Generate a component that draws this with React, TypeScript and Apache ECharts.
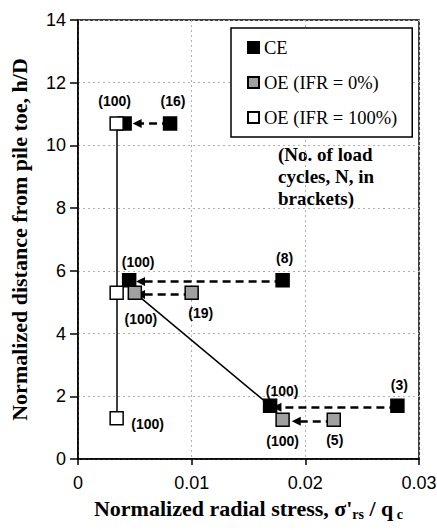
import React, { useEffect, useRef } from "react";
import * as echarts from "echarts";

// Radial stress profiles near the pile toe: closed-ended (CE) and open-ended (OE) piles
const ceX = [0.0081, 0.0041, 0.018, 0.0045, 0.0281, 0.0169];
const ceY = [10.7, 10.7, 5.7, 5.7, 1.7, 1.7];
const ceCycles: (number | null)[] = [16, null, 8, 100, 3, 100];

const oe0X = [0.01, 0.005, 0.0225, 0.018];
const oe0Y = [5.3, 5.3, 1.25, 1.25];
const oe0Cycles: (number | null)[] = [19, 100, 5, 100];

const oe100X = [0.0034, 0.0034, 0.0034];
const oe100Y = [10.7, 5.3, 1.3];
const oe100Cycles: (number | null)[] = [100, null, 100];

// Degradation of radial stress with cycling: [from, to] pairs
const arrowFrom = [
  [0.0081, 10.7],
  [0.018, 5.66],
  [0.01, 5.25],
  [0.0281, 1.65],
  [0.0225, 1.2],
];
const arrowTo = [
  [0.0052, 10.7],
  [0.0055, 5.66],
  [0.0055, 5.25],
  [0.0175, 1.65],
  [0.0192, 1.2],
];

// Profiles after 100 cycles
const profileFrom = [
  [0.0034, 10.7],
  [0.005, 5.3],
];
const profileTo = [
  [0.0034, 1.3],
  [0.0169, 1.7],
];

const xTicks = [0, 0.01, 0.02, 0.03];
const yMax = 14;

// label offsets (px) relative to each marker
const ceLabelOffset = [[3, -22], [0, 0], [2, -22], [9, -18], [2, -21], [12, -15]];
const oe0LabelOffset = [[9, 20], [6, 26], [1, 20], [0, 21]];
const oe100LabelOffset = [[-2, -22], [0, 0], [31, 6]];

const SANS = "'Liberation Sans', Arial, sans-serif";
const SERIF = "'Liberation Serif', 'Times New Roman', serif";

function points(xs: number[], ys: number[], cycles: (number | null)[], offsets: number[][]) {
  return xs.map((x, i) => ({
    value: [x, ys[i]],
    label: {
      show: cycles[i] !== null,
      formatter: cycles[i] !== null ? `(${cycles[i]})` : "",
      position: "inside",
      offset: offsets[i],
      color: "#000",
      textBorderWidth: 0,
      fontFamily: SANS,
      fontSize: 14,
      fontWeight: "bold",
    },
  }));
}

export default function App() {
  const ref = useRef<HTMLDivElement>(null);

  useEffect(() => {
    document.body.style.margin = "0";
    if (!ref.current) return;
    const chart = echarts.init(ref.current, null, { renderer: "svg" });

    const markerBorder = { borderColor: "#000", borderWidth: 1.5, opacity: 1 };

    chart.setOption({
      animation: false,
      backgroundColor: "#fff",
      grid: {
        left: 78,
        right: 18,
        top: 20,
        bottom: 71,
        outerBoundsMode: "none",
        containLabel: false,
        show: true,
        borderColor: "#000",
        borderWidth: 1.5,
      },
      legend: {
        data: ["CE", "OE (IFR = 0%)", "OE (IFR = 100%)"],
        orient: "vertical",
        left: 231,
        top: 28,
        padding: [10, 15, 10, 16],
        itemGap: 16,
        itemWidth: 11,
        itemHeight: 11,
        icon: "rect",
        borderColor: "#000",
        borderWidth: 1.5,
        backgroundColor: "#fff",
        textStyle: { fontFamily: SERIF, fontSize: 18.5, color: "#000" },
      },
      graphic: [
        {
          type: "text",
          left: 278,
          top: 143,
          style: {
            text: "(No. of load\ncycles, N, in\nbrackets)",
            fontFamily: SERIF,
            fontWeight: "bold",
            fontSize: 19,
            lineHeight: 22,
            fill: "#000",
          },
        },
      ],
      xAxis: {
        type: "value",
        min: xTicks[0],
        max: xTicks[xTicks.length - 1],
        interval: 0.01,
        name: "{t|Normalized radial stress, σ'}{s|rs}{t| / q}{s| c}",
        nameLocation: "middle",
        nameGap: 36,
        nameMoveOverlap: false,
        nameTextStyle: {
          rich: {
            t: { fontFamily: SERIF, fontWeight: "bold", fontSize: 22, color: "#000", lineHeight: 18, verticalAlign: "middle" },
            s: { fontFamily: SERIF, fontWeight: "bold", fontSize: 14, color: "#000", lineHeight: 26, verticalAlign: "bottom" },
          },
        },
        axisLine: { lineStyle: { color: "#000", width: 1.5 } },
        axisTick: { show: true, inside: false, length: 6, lineStyle: { color: "#000", width: 1.5 } },
        axisLabel: {
          margin: 15,
          color: "#000",
          fontFamily: SANS,
          fontSize: 18,
          formatter: (v: number) => (v === 0 ? "0" : String(+v.toFixed(2))),
        },
        splitLine: { show: true, lineStyle: { color: "#b0b0b0", type: [2, 3], width: 1 } },
      },
      yAxis: {
        type: "value",
        min: 0,
        max: yMax,
        interval: 2,
        name: "Normalized distance from pile toe, h/D",
        nameLocation: "middle",
        nameGap: 48,
        nameMoveOverlap: false,
        nameTextStyle: { fontFamily: SERIF, fontWeight: "bold", fontSize: 22, color: "#000" },
        axisLine: { lineStyle: { color: "#000", width: 1.5 } },
        axisTick: { show: true, inside: false, length: 8, lineStyle: { color: "#000", width: 1.5 } },
        axisLabel: { margin: 12, color: "#000", fontFamily: SANS, fontSize: 18 },
        splitLine: { show: true, lineStyle: { color: "#b0b0b0", type: [2, 3], width: 1 } },
      },
      series: [
        {
          type: "lines",
          coordinateSystem: "cartesian2d",
          silent: true,
          symbol: ["none", "none"],
          lineStyle: { color: "#000", width: 1.5, type: "solid", opacity: 1 },
          data: profileFrom.map((p, i) => ({ coords: [p, profileTo[i]] })),
          z: 1,
        },
        {
          type: "lines",
          coordinateSystem: "cartesian2d",
          silent: true,
          symbol: ["none", "triangle"],
          symbolSize: 9,
          lineStyle: { color: "#000", width: 2.5, type: [8, 5], opacity: 1 },
          data: arrowFrom.map((p, i) => ({ coords: [p, arrowTo[i]] })),
          z: 1,
        },
        {
          name: "CE",
          type: "scatter",
          symbol: "rect",
          symbolSize: 13,
          itemStyle: { color: "#000", ...markerBorder },
          data: points(ceX, ceY, ceCycles, ceLabelOffset),
          z: 3,
        },
        {
          name: "OE (IFR = 0%)",
          type: "scatter",
          symbol: "rect",
          symbolSize: 13,
          itemStyle: { color: "#a0a0a0", ...markerBorder },
          data: points(oe0X, oe0Y, oe0Cycles, oe0LabelOffset),
          z: 4,
        },
        {
          name: "OE (IFR = 100%)",
          type: "scatter",
          symbol: "rect",
          symbolSize: 13,
          itemStyle: { color: "#fff", ...markerBorder },
          data: points(oe100X, oe100Y, oe100Cycles, oe100LabelOffset),
          z: 5,
        },
      ],
    });

    return () => chart.dispose();
  }, []);

  return <div ref={ref} style={{ width: 437, height: 530 }} />;
}
